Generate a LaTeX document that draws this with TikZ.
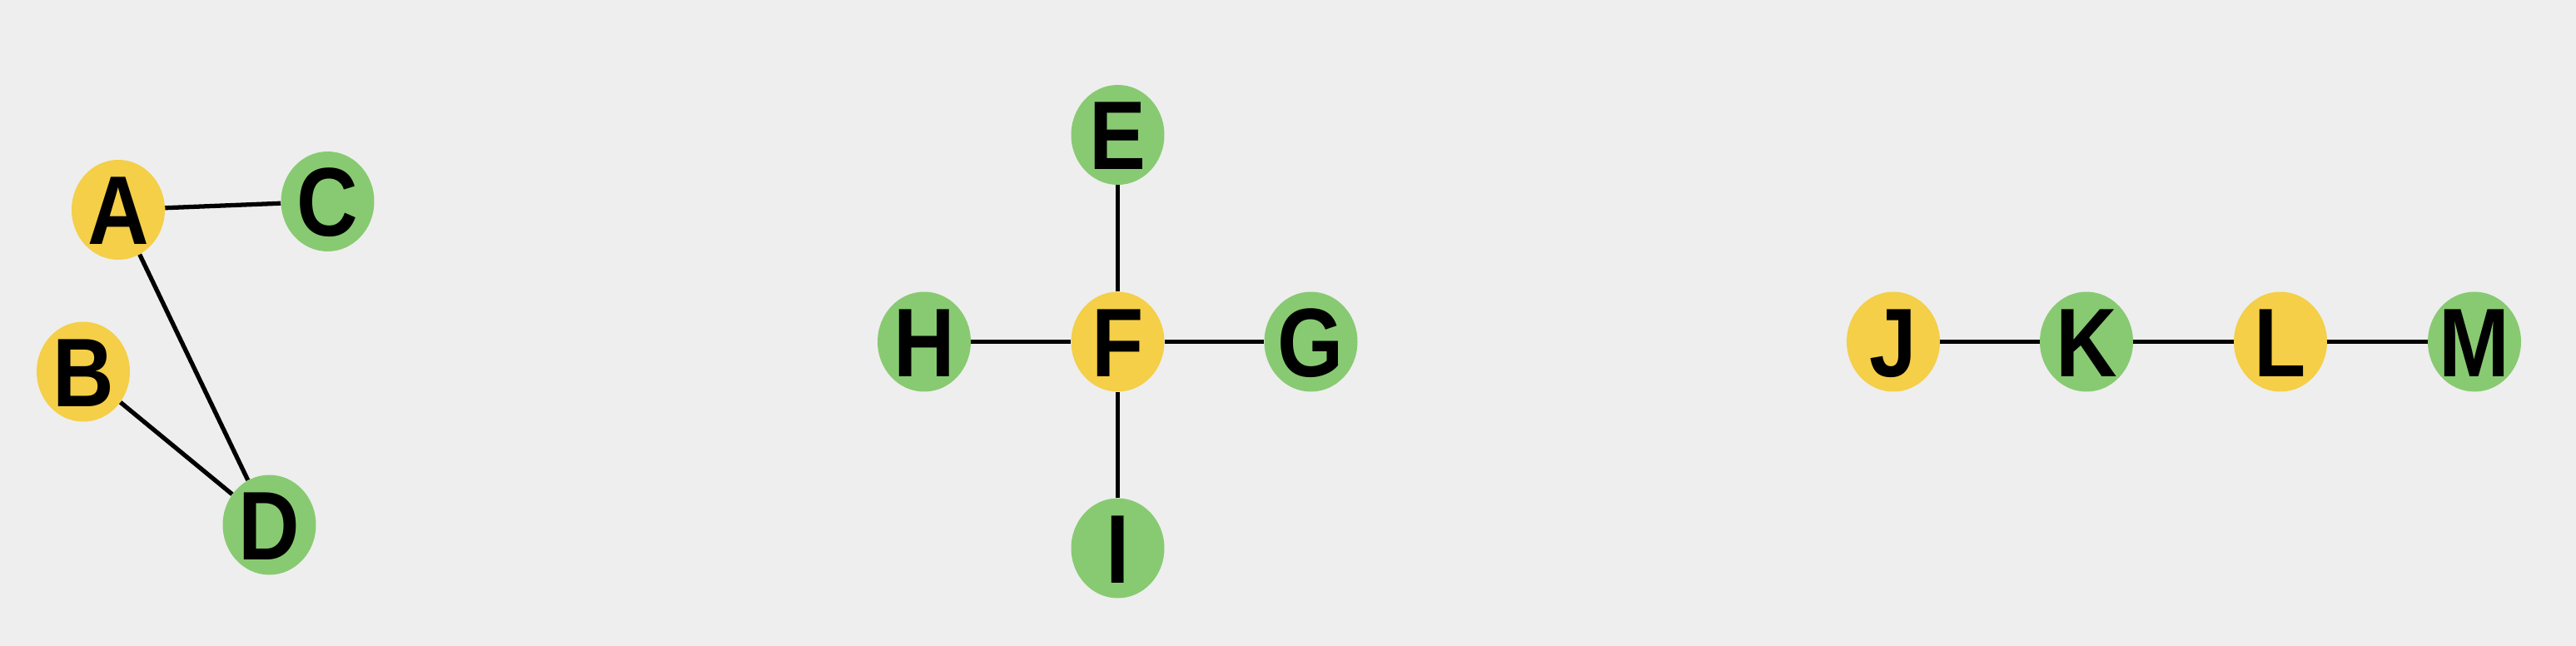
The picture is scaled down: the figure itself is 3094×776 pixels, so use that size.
\documentclass[tikz,border=0pt]{standalone}
\usepackage{fontspec}
\setmainfont{Liberation Sans}
\usetikzlibrary{shapes.geometric}
\definecolor{bgc}{HTML}{EEEEEE}
\definecolor{ylw}{HTML}{F4CF47}
\definecolor{grn}{HTML}{88CA72}
\newcommand{\vlabel}[1]{{\fontsize{58pt}{70pt}\selectfont\bfseries\makebox[0pt]{\smash{\raisebox{-0.41em}{\scalebox{1}[1.15]{#1}}}}}}
\begin{document}
\begin{tikzpicture}[x=0.02cm,y=-0.02cm,
  vtx/.style={ellipse,inner sep=0pt,minimum width=2.24cm,minimum height=2.40cm,text=black},
  yv/.style={vtx,fill=ylw},
  gv/.style={vtx,fill=grn},
  edge/.style={draw=black,line width=3pt}]
\fill[bgc] (0,0) rectangle (3094,776);
\useasboundingbox (0,0) rectangle (3094,776);
\node[yv] (A) at (142,252) {\vlabel{A}};
\node[gv] (C) at (393.5,242) {\vlabel{C}};
\node[yv] (B) at (100,446.5) {\vlabel{B}};
\node[gv] (D) at (323.5,630.5) {\vlabel{D}};
\node[gv] (E) at (1342.5,162) {\vlabel{E}};
\node[gv] (H) at (1110,410.5) {\vlabel{H}};
\node[yv] (F) at (1342.5,410.5) {\vlabel{F}};
\node[gv] (G) at (1574.5,410.5) {\vlabel{G}};
\node[gv] (I) at (1342.5,658.5) {\vlabel{I}};
\node[yv] (J) at (2274,410.5) {\vlabel{J}};
\node[gv] (K) at (2506,410.5) {\vlabel{K}};
\node[yv] (L) at (2739,410.5) {\vlabel{L}};
\node[gv] (M) at (2972,410.5) {\vlabel{M}};
\draw[edge] (A) -- (C);
\draw[edge] (A) -- (D);
\draw[edge] (B) -- (D);
\draw[edge] (E) -- (F);
\draw[edge] (H) -- (F);
\draw[edge] (F) -- (G);
\draw[edge] (F) -- (I);
\draw[edge] (J) -- (K);
\draw[edge] (K) -- (L);
\draw[edge] (L) -- (M);
\end{tikzpicture}
\end{document}
